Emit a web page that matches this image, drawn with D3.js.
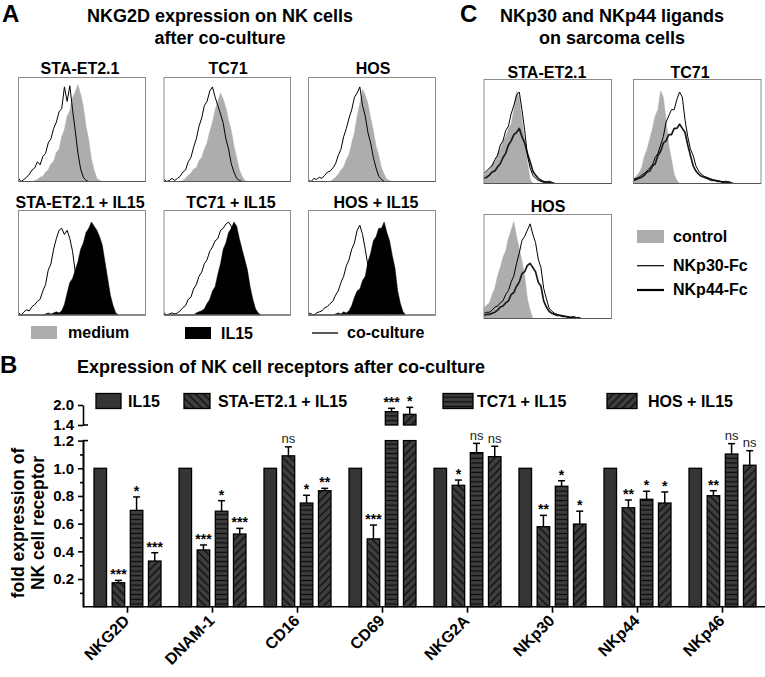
<!DOCTYPE html>
<html><head><meta charset="utf-8">
<script src="https://cdn.jsdelivr.net/npm/d3@7"></script>
<style>
body{margin:0;background:#fff}
svg{display:block}
text{font-family:"Liberation Sans",Arial,Helvetica,sans-serif}
</style>
</head><body>
<svg id="fig" width="765" height="677"></svg>
<script>
// ---------------- Panel B data ----------------
const categories = ["NKG2D","DNAM-1","CD16","CD69","NKG2A","NKp30","NKp44","NKp46"];
const series = ["IL15","STA-ET2.1 + IL15","TC71 + IL15","HOS + IL15"];
const il15Values = [1,1,1,1,1,1,1,1];
const staValues  = [0.173,0.41,1.09,0.49,0.877,0.578,0.715,0.802];
const staErr     = [0.017,0.036,0.065,0.10,0.038,0.082,0.056,0.036];
const tc71Values = [0.696,0.69,0.749,1.80,1.113,0.87,0.776,1.103];
const tc71Err    = [0.097,0.076,0.056,0.10,0.067,0.04,0.058,0.075];
const hosValues  = [0.33,0.525,0.838,1.72,1.084,0.597,0.749,1.022];
const hosErr     = [0.06,0.041,0.017,0.21,0.075,0.093,0.08,0.105];
const staSig  = ["***","***","ns","***","*","**","**","**"];
const tc71Sig = ["*","*","*","***","ns","*","*","ns"];
const hosSig  = ["***","***","**","*","ns","*","*","ns"];
const yTicksLow = [0.2,0.4,0.6,0.8,1.0,1.2];
const yMinorLow = [0.1,0.3,0.5,0.7,0.9,1.1];
const yTicksHigh = [1.4,2.0];

// ---------------- Panel A histograms (NKG2D) ----------------
const aTitles = ["STA-ET2.1","TC71","HOS","STA-ET2.1 + IL15","TC71 + IL15","HOS + IL15"];
const aMedium1 = [0,0,0,0,0,0,1,2,4,5,9,11,17,19,28,31,43,50,63,68,81,86,93,84,72,53,40,21,11,3,1,0];
const aCo1     = [3,0,2,4,7,11,13,19,16,24,27,37,41,51,57,67,70,91,77,92,69,49,27,12,4,1,0];
const aMedium2 = [0,0,0,0,0,0,0,1,3,6,8,12,13,20,23,31,37,48,57,69,77,85,79,71,59,49,34,23,11,5,1,0];
const aCo2     = [2,0,1,3,1,3,5,9,11,19,23,33,41,53,61,73,77,87,91,81,73,65,56,41,31,17,9,3,1,0];
const aMedium3 = [0,0,0,0,0,0,0,0,0,2,4,7,11,14,21,26,37,47,63,75,89,83,75,61,49,34,25,13,7,2,1,0];
const aCo3     = [1,0,3,2,4,3,6,9,10,13,17,25,31,43,51,61,69,81,85,91,73,63,47,37,23,13,5,2,0];
const aIL15_4  = [0,0,0,0,0,0,0,0,0,0,1,2,1,2,3,2,4,10,21,31,35,43,51,63,69,79,83,89,85,81,75,67,51,35,19,9,2,0];
const aCo4     = [2,0,3,5,4,8,10,13,15,23,29,43,49,63,73,81,83,77,81,73,61,41,27,13,6,2,0];
const aIL15_5  = [0,0,0,0,0,0,0,0,0,0,0,0,2,3,4,6,11,15,23,27,39,49,63,69,79,83,89,85,73,63,53,43,27,15,6,2,0];
const aCo5     = [2,0,1,2,1,2,4,7,9,15,17,25,29,37,41,49,53,61,65,71,73,81,83,87,89,85,75,67,53,45,37,27,13,6,2,0];
const aIL15_6  = [0,0,0,0,0,0,0,0,0,0,1,2,1,3,2,4,9,17,23,25,33,37,51,59,71,75,83,83,89,79,71,57,45,23,11,3,0];
const aCo6     = [2,1,0,2,3,4,7,8,11,13,19,23,31,37,47,53,63,69,81,86,77,63,47,39,29,23,15,11,5,2,0];
const aLegend = ["medium","IL15","co-culture"];

// ---------------- Panel C histograms (ligands) ----------------
const cTitles = ["STA-ET2.1","TC71","HOS"];
const cControl1 = [8,11,13,19,21,29,33,41,45,53,57,71,89,83,61,41,21,4,0];
const cP30_1    = [10,12,15,17,23,27,37,41,51,55,67,75,85,88,71,51,27,15,8,5,3,2,1,2,1,0];
const cP44_1    = [5,6,8,11,12,16,19,25,29,37,41,47,49,53,45,39,29,21,12,8,5,3,2,1,2,1,0];
const cControl2 = [4,7,10,15,26,33,43,53,65,71,89,83,61,37,23,9,3,0];
const cP30_2    = [4,5,6,8,10,12,15,18,25,29,37,45,59,65,71,71,81,88,83,61,45,33,27,17,12,9,7,6,5,4,3,3,2,2,1,2,1,0];
const cP44_2    = [3,4,5,6,8,11,12,17,19,27,31,39,41,47,47,53,53,57,53,49,37,27,17,12,9,7,6,5,4,3,3,2,2,1,2,1,0];
const cControl3 = [10,13,15,23,29,41,49,59,65,77,85,93,79,67,55,41,19,8,0];
const cP30_3    = [5,6,6,8,11,12,15,17,23,27,35,41,53,63,75,79,85,91,81,73,57,49,29,19,10,7,5,4,3,3,2,2,1,2,1,1,0];
const cP44_3    = [3,4,4,5,6,8,11,12,15,17,23,25,31,35,43,45,51,53,49,45,35,31,17,11,7,5,4,3,3,2,2,1,1,1,0];
const cLegend = ["control","NKp30-Fc","NKp44-Fc"];

const NBINS = 48;
const GRAY = "#adadad";
const svg = d3.select("#fig");

// ---------- helpers ----------
function txt(x, y, s, size, opts = {}) {
  return svg.append("text").attr("x", x).attr("y", y).text(s)
    .attr("font-size", size).attr("font-weight", opts.weight || "bold")
    .attr("text-anchor", opts.anchor || "start").attr("fill", opts.fill || "#000");
}

function histBox(box, layers) {
  const x = d3.scaleLinear().domain([0, NBINS - 1]).range([box.x0, box.x1]);
  const y = d3.scaleLinear().domain([0, 100]).range([box.y1, box.y0]);
  const g = svg.append("g");
  layers.forEach(L => {
    if (L.type === "area") {
      const area = d3.area().x((d, i) => x(i)).y0(y(0)).y1(d => y(d));
      g.append("path").datum(L.data).attr("d", area).attr("fill", L.color).attr("stroke", L.color).attr("stroke-width", 0.5);
    } else {
      const line = d3.line().x((d, i) => x(i)).y(d => y(d));
      g.append("path").datum(L.data).attr("d", line).attr("fill", "none").attr("stroke", L.color)
        .attr("stroke-width", L.width).attr("stroke-linejoin", "round");
    }
  });
  g.append("rect").attr("x", box.x0).attr("y", box.y0).attr("width", box.x1 - box.x0).attr("height", box.y1 - box.y0)
    .attr("fill", "none").attr("stroke", "#8c8c8c").attr("stroke-width", 1);
  g.append("line").attr("x1", box.x0).attr("x2", box.x1).attr("y1", box.y1).attr("y2", box.y1).attr("stroke", "#555").attr("stroke-width", 1);
}

// ---------------- Panel A ----------------
txt(2, 22, "A", 24);
txt(220, 22, "NKG2D expression on NK cells", 18, {anchor: "middle"});
txt(220, 43.5, "after co-culture", 18, {anchor: "middle"});

const aCols = [[18.5, 145.5], [164, 290.5], [308.5, 435.5]];
const aRows = [[77.5, 181.5], [210.5, 315]];
const aHeadY = [73.5, 208];
const aHeadX = [80, 228, 373, 80, 231, 376];
const aLayers = [
  [{type:"area", data:aMedium1, color:GRAY}, {type:"line", data:aCo1, color:"#000", width:1}],
  [{type:"area", data:aMedium2, color:GRAY}, {type:"line", data:aCo2, color:"#000", width:1}],
  [{type:"area", data:aMedium3, color:GRAY}, {type:"line", data:aCo3, color:"#000", width:1}],
  [{type:"area", data:aIL15_4, color:"#000"}, {type:"line", data:aCo4, color:"#000", width:1}],
  [{type:"area", data:aIL15_5, color:"#000"}, {type:"line", data:aCo5, color:"#000", width:1}],
  [{type:"area", data:aIL15_6, color:"#000"}, {type:"line", data:aCo6, color:"#000", width:1}]
];
aTitles.forEach((t, k) => {
  const r = Math.floor(k / 3), c = k % 3;
  txt(aHeadX[k], aHeadY[r], t, 16, {anchor: "middle"});
  histBox({x0: aCols[c][0], x1: aCols[c][1], y0: aRows[r][0], y1: aRows[r][1]}, aLayers[k]);
});
// legend A
svg.append("rect").attr("x", 31).attr("y", 326).attr("width", 26).attr("height", 13).attr("fill", GRAY);
txt(68, 337.5, aLegend[0], 16);
svg.append("rect").attr("x", 185).attr("y", 327).attr("width", 26).attr("height", 12).attr("fill", "#000");
txt(221, 338.5, aLegend[1], 16);
svg.append("line").attr("x1", 312).attr("x2", 338).attr("y1", 333).attr("y2", 333).attr("stroke", "#000").attr("stroke-width", 1.3);
txt(347, 337.5, aLegend[2], 16);

// ---------------- Panel C ----------------
txt(460, 22, "C", 24);
txt(612, 22, "NKp30 and NKp44 ligands", 18, {anchor: "middle"});
txt(612, 43.5, "on sarcoma cells", 18, {anchor: "middle"});
const cBoxes = [
  {x0: 484, x1: 611.5, y0: 79.5, y1: 183.5},
  {x0: 633.5, x1: 761, y0: 79.5, y1: 183.5},
  {x0: 484, x1: 611.5, y0: 214.5, y1: 318.5}
];
const cHead = [[547, 77.5], [690, 77.5], [548, 211.5]];
const cLayers = [
  [cControl1, cP30_1, cP44_1],
  [cControl2, cP30_2, cP44_2],
  [cControl3, cP30_3, cP44_3]
];
cTitles.forEach((t, k) => {
  txt(cHead[k][0], cHead[k][1], t, 16, {anchor: "middle"});
  histBox(cBoxes[k], [
    {type:"area", data:cLayers[k][0], color:GRAY},
    {type:"line", data:cLayers[k][2], color:"#1a1a1a", width:1.7},
    {type:"line", data:cLayers[k][1], color:"#000", width:1}
  ]);
});
svg.append("rect").attr("x", 637).attr("y", 230).attr("width", 27).attr("height", 13).attr("fill", GRAY);
txt(673, 242, cLegend[0], 16);
svg.append("line").attr("x1", 637).attr("x2", 664).attr("y1", 265.7).attr("y2", 265.7).attr("stroke", "#000").attr("stroke-width", 1.2);
txt(673, 270.5, cLegend[1], 16);
svg.append("line").attr("x1", 637).attr("x2", 664).attr("y1", 290).attr("y2", 290).attr("stroke", "#000").attr("stroke-width", 2.2);
txt(673, 294.5, cLegend[2], 16);

// ---------------- Panel B ----------------
txt(0, 373, "B", 24);
txt(77, 373, "Expression of NK cell receptors after co-culture", 18);

const defs = svg.append("defs");
const BASE = "#3e3e3e";
function hatch(id, angle, size) {
  const p = defs.append("pattern").attr("id", id).attr("patternUnits", "userSpaceOnUse")
    .attr("width", size).attr("height", size).attr("patternTransform", `rotate(${angle})`);
  p.append("rect").attr("width", size).attr("height", size).attr("fill", BASE);
  p.append("line").attr("x1", 0).attr("x2", size).attr("y1", size / 2).attr("y2", size / 2)
    .attr("stroke", "#0a0a0a").attr("stroke-width", 1.3);
}
hatch("pSTA", 45, 5.5);    // "\" lines
hatch("pTC71", 0, 4.7);    // horizontal lines
hatch("pHOS", -45, 5.5);   // "/" lines
const fills = ["#353535", "url(#pSTA)", "url(#pTC71)", "url(#pHOS)"];

const x0 = d3.scaleBand().domain(categories).range([85, 765]);
const x1 = d3.scaleBand().domain(series).range([9, 76]).paddingInner(0.31).paddingOuter(0);
const yLow = d3.scaleLinear().domain([0, 1.2]).range([606.7, 440.6]);
const yHigh = d3.scaleLinear().domain([1.4, 2.0]).range([425, 405]);
const BREAK_LO = 1.2, BREAK_HI = 1.4;
function yv(v) { return v <= BREAK_LO ? yLow(v) : yHigh(v); }

const rows = [];
categories.forEach((c, i) => {
  rows.push({cat: c, s: series[0], v: il15Values[i], e: null, sig: null});
  rows.push({cat: c, s: series[1], v: staValues[i], e: staErr[i], sig: staSig[i]});
  rows.push({cat: c, s: series[2], v: tc71Values[i], e: tc71Err[i], sig: tc71Sig[i]});
  rows.push({cat: c, s: series[3], v: hosValues[i], e: hosErr[i], sig: hosSig[i]});
});

const gBars = svg.append("g");
rows.forEach(d => {
  const bx = x0(d.cat) + x1(d.s), bw = x1.bandwidth();
  const f = fills[series.indexOf(d.s)];
  const top = d.v;
  if (top <= BREAK_LO) {
    gBars.append("rect").attr("x", bx).attr("y", yLow(top)).attr("width", bw).attr("height", yLow(0) - yLow(top))
      .attr("fill", f).attr("stroke", "#000").attr("stroke-width", 1.3);
  } else {
    gBars.append("rect").attr("x", bx).attr("y", yLow(BREAK_LO)).attr("width", bw).attr("height", yLow(0) - yLow(BREAK_LO))
      .attr("fill", f).attr("stroke", "#000").attr("stroke-width", 1.3);
    gBars.append("rect").attr("x", bx).attr("y", yHigh(top)).attr("width", bw).attr("height", yHigh(BREAK_HI) - yHigh(top))
      .attr("fill", f).attr("stroke", "#000").attr("stroke-width", 1.3);
  }
  if (d.e !== null) {
    const cx = bx + bw / 2;
    const yTop = yv(top + d.e), yBar = yv(top);
    gBars.append("line").attr("x1", cx).attr("x2", cx).attr("y1", yBar).attr("y2", yTop).attr("stroke", "#000").attr("stroke-width", 1.5);
    gBars.append("line").attr("x1", cx - 3.5).attr("x2", cx + 3.5).attr("y1", yTop).attr("y2", yTop).attr("stroke", "#000").attr("stroke-width", 1.5);
    if (d.sig === "ns") {
      gBars.append("text").attr("x", cx).attr("y", yTop - 3.5).attr("text-anchor", "middle")
        .attr("font-size", 13).attr("fill", "#222").text("ns");
    } else {
      gBars.append("text").attr("x", cx).attr("y", yTop - 1).attr("text-anchor", "middle")
        .attr("font-size", 14).attr("font-weight", "bold").text(d.sig);
    }
  }
});

// axes
const AX = 83;
const gy = svg.append("g").attr("transform", `translate(${AX},0)`);
gy.call(d3.axisLeft(yLow).tickValues(yTicksLow).tickSize(5).tickPadding(4).tickSizeOuter(0).tickFormat(d3.format(".1f")));
const gy2 = svg.append("g").attr("transform", `translate(${AX},0)`);
gy2.call(d3.axisLeft(yLow).tickValues(yMinorLow).tickSize(3).tickSizeOuter(0).tickFormat(""));
const gy3 = svg.append("g").attr("transform", `translate(${AX},0)`);
gy3.call(d3.axisLeft(yHigh).tickValues(yTicksHigh).tickSize(5).tickPadding(4).tickSizeOuter(0).tickFormat(d3.format(".1f")));
[gy, gy2, gy3].forEach(g => {
  g.selectAll("path,line").attr("stroke", "#000").attr("stroke-width", 1.6);
  g.selectAll("text").attr("font-size", 15).attr("font-weight", "bold").attr("fill", "#000")
    .attr("font-family", '"Liberation Sans",Arial,sans-serif');
});
[BREAK_LO].forEach(v => svg.append("line").attr("x1", AX).attr("x2", AX + 5).attr("y1", yLow(v)).attr("y2", yLow(v)).attr("stroke", "#000").attr("stroke-width", 1.6));
[BREAK_HI].forEach(v => svg.append("line").attr("x1", AX).attr("x2", AX + 5).attr("y1", yHigh(v)).attr("y2", yHigh(v)).attr("stroke", "#000").attr("stroke-width", 1.6));

// x axis
svg.append("line").attr("x1", AX).attr("x2", 765).attr("y1", yLow(0)).attr("y2", yLow(0)).attr("stroke", "#000").attr("stroke-width", 1.6);
categories.forEach(c => {
  const cx = x0(c) + x0.bandwidth() / 2;
  svg.append("line").attr("x1", cx).attr("x2", cx).attr("y1", yLow(0)).attr("y2", yLow(0) + 6).attr("stroke", "#000").attr("stroke-width", 1.6);
  svg.append("text").attr("transform", `translate(${cx + 3},${yLow(0) + 15}) rotate(-45)`)
    .attr("text-anchor", "end").attr("font-size", 16).attr("font-weight", "bold").text(c);
});

// y label
const yl = svg.append("text").attr("transform", "translate(24,523) rotate(-90)").attr("text-anchor", "middle")
  .attr("font-size", 17.5).attr("font-weight", "bold");
yl.append("tspan").attr("x", 0).attr("y", 0).text("fold expression of");
yl.append("tspan").attr("x", 0).attr("y", 20).text("NK cell receptor");

// legend B
const legX = [96, 184, 443, 607];
const legW = [25, 26, 30, 30];
const legTX = [128, 218, 477, 648];
series.forEach((s, i) => {
  svg.append("rect").attr("x", legX[i]).attr("y", 393.5).attr("width", legW[i]).attr("height", 15)
    .attr("fill", fills[i]).attr("stroke", "#000").attr("stroke-width", 1.3);
  txt(legTX[i], 407, s, 16);
});
</script>
</body></html>
